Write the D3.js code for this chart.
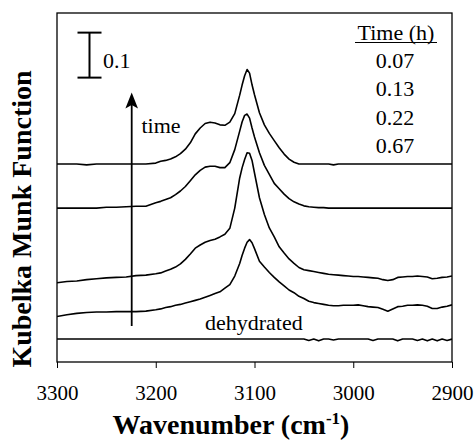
<!DOCTYPE html>
<html>
<head>
<meta charset="utf-8">
<script src="https://cdn.jsdelivr.net/npm/d3@7"></script>
<style>
  body { margin: 0; background: #fff; }
  svg { display: block; }
  text { font-family: "Liberation Serif", "Times New Roman", serif; fill: #000; }
</style>
</head>
<body>
<svg id="chart" width="474" height="443"></svg>
<script>
// Wavenumber grid (cm-1), denser through the C-H stretching peak
const wavenumbers = [
  3300, 3290, 3280, 3270, 3260, 3250, 3240, 3230, 3220, 3210,
  3200, 3195, 3190, 3185, 3180, 3175, 3170, 3165, 3160, 3155, 3150, 3145, 3140, 3135, 3130, 3125, 3120,
  3115, 3112.5, 3110, 3107.5, 3105, 3102.5, 3100,
  3095, 3090, 3085, 3080, 3075, 3070, 3065, 3060, 3055, 3050,
  3045, 3040, 3035, 3030, 3025, 3020, 3015, 3010, 3005, 3000,
  2995, 2990, 2985, 2980, 2975, 2970, 2965, 2960, 2955, 2950,
  2945, 2940, 2935, 2930, 2925, 2920, 2915, 2910, 2905, 2900
];

// Kubelka-Munk spectra
const kmDehydrated = [
  0.001, 0.001, 0.001, 0.001, 0.001, 0.001, 0.001, 0.001, 0.001, 0.001,
  0.001, 0.001, 0.001, 0.001, 0.001, 0.001, 0.001, 0.001, 0.001, 0.001, 0.001, 0.001, 0.001, 0.001, 0.001, 0.001, 0.001,
  0.001, 0.001, 0.001, 0.001, 0.001, 0.001, 0.001,
  0.001, 0.001, 0.001, 0.001, 0.001, 0.001, 0.001, 0.001, 0.001, 0.001,
  -0.002, 0.001, -0.003, 0.001, 0.001, -0.001, 0.001, 0.001, 0.001, 0.001,
  0.001, 0.001, 0.001, -0.002, 0.001, 0.001, 0.001, 0.001, -0.003, 0.001,
  0.001, 0.001, -0.002, 0.001, -0.003, 0.001, -0.003, 0.001, -0.002, 0.001
];
const km007 = [
  0.001, 0.005, 0.008, 0.010, 0.011, 0.011, 0.012, 0.012, 0.012, 0.013,
  0.016, 0.018, 0.021, 0.023, 0.026, 0.028, 0.031, 0.034, 0.037, 0.040, 0.044, 0.048, 0.052, 0.056, 0.064, 0.072, 0.091,
  0.119, 0.137, 0.153, 0.166, 0.172, 0.165, 0.152,
  0.124, 0.111, 0.099, 0.088, 0.078, 0.069, 0.060, 0.054, 0.046, 0.041,
  0.035, 0.032, 0.030, 0.028, 0.026, 0.025, 0.025, 0.026, 0.026, 0.026,
  0.027, 0.025, 0.023, 0.022, 0.021, 0.017, 0.013, 0.018, 0.023, 0.024,
  0.026, 0.026, 0.027, 0.026, 0.024, 0.019, 0.019, 0.022, 0.024, 0.027
];
const km013 = [
  0.006, 0.009, 0.010, 0.013, 0.015, 0.017, 0.018, 0.019, 0.022, 0.023,
  0.026, 0.028, 0.032, 0.036, 0.041, 0.048, 0.058, 0.070, 0.083, 0.090, 0.096, 0.100, 0.103, 0.108, 0.114, 0.127, 0.172,
  0.239, 0.262, 0.280, 0.295, 0.294, 0.278, 0.250,
  0.195, 0.158, 0.128, 0.108, 0.086, 0.072, 0.059, 0.049, 0.040, 0.035,
  0.033, 0.031, 0.029, 0.027, 0.025, 0.024, 0.023, 0.022, 0.021, 0.020,
  0.020, 0.019, 0.018, 0.017, 0.016, 0.013, 0.011, 0.013, 0.018, 0.019,
  0.020, 0.020, 0.021, 0.020, 0.019, 0.015, 0.016, 0.018, 0.019, 0.021
];
const km022 = [
  0.002, 0.002, 0.002, 0.002, 0.002, 0.004, 0.004, 0.005, 0.006, 0.006,
  0.014, 0.017, 0.021, 0.025, 0.032, 0.040, 0.050, 0.063, 0.076, 0.086, 0.093, 0.095, 0.095, 0.092, 0.092, 0.103, 0.132,
  0.173, 0.194, 0.208, 0.211, 0.202, 0.180, 0.160,
  0.125, 0.097, 0.077, 0.057, 0.045, 0.033, 0.023, 0.016, 0.011, 0.007,
  0.005, 0.004, 0.003, 0.003, 0.002, 0.002, 0.002, 0.002, 0.002, 0.002,
  0.002, 0.002, 0.002, 0.002, 0.002, 0.002, 0.002, 0.002, 0.002, 0.002,
  0.002, 0.002, 0.002, 0.002, 0.002, 0.002, 0.002, 0.002, 0.002, 0.002
];
const km067 = [
  0, 0, 0, -0.002, 0, 0, 0, 0, 0, 0,
  0.002, 0.006, 0.008, 0.011, 0.016, 0.023, 0.033, 0.047, 0.067, 0.080, 0.090, 0.093, 0.091, 0.087, 0.086, 0.093, 0.112,
  0.153, 0.176, 0.196, 0.210, 0.202, 0.176, 0.154,
  0.114, 0.087, 0.068, 0.052, 0.036, 0.022, 0.011, 0.004, 0, 0,
  0, 0, 0, 0, 0, -0.002, 0, 0, 0, 0,
  0, 0, 0, 0, 0, 0, 0, 0, 0, 0,
  0, 0, 0, 0, 0, 0, 0, 0, 0, 0
];

// Vertical offsets applied to stack the spectra (bottom to top)
const spectra = [kmDehydrated, km007, km013, km022, km067];
const offsets = [0.05, 0.10, 0.17, 0.34, 0.44];

const timeLabels = ["0.07", "0.13", "0.22", "0.67"];
const xTicks = [3300, 3200, 3100, 3000, 2900];
const scaleBarValue = 0.1;
const scaleBarBase = 0.632;

const svg = d3.select("#chart");
const plot = { left: 57, right: 452, top: 13, bottom: 362 };

const x = d3.scaleLinear().domain([3300, 2900]).range([plot.left, plot.right]);
const y = d3.scaleLinear().domain([0, 0.7756]).range([plot.bottom, plot.top]);

svg.append("defs").append("clipPath").attr("id", "plot-clip")
  .append("rect")
  .attr("x", plot.left).attr("y", plot.top)
  .attr("width", plot.right - plot.left).attr("height", plot.bottom - plot.top);

// Spectra
const gLines = svg.append("g").attr("clip-path", "url(#plot-clip)");
spectra.forEach((vals, i) => {
  const line = d3.line()
    .x((d, j) => x(wavenumbers[j]))
    .y(d => y(d + offsets[i]));
  gLines.append("path")
    .datum(vals)
    .attr("d", line)
    .attr("fill", "none")
    .attr("stroke", "#000")
    .attr("stroke-width", 1.6)
    .attr("stroke-linejoin", "round");
});

// Frame
svg.append("rect")
  .attr("x", plot.left).attr("y", plot.top)
  .attr("width", plot.right - plot.left).attr("height", plot.bottom - plot.top)
  .attr("fill", "none").attr("stroke", "#000").attr("stroke-width", 1.3);

// X axis
const xAxis = svg.append("g")
  .attr("transform", `translate(0,${plot.bottom})`)
  .call(d3.axisBottom(x).tickValues(xTicks).tickSize(6).tickPadding(17).tickFormat(d3.format("d")));
xAxis.select(".domain").remove();
xAxis.selectAll(".tick line").attr("stroke", "#000").attr("stroke-width", 1);
xAxis.selectAll(".tick text")
  .style("font-family", "'Liberation Serif', 'Times New Roman', serif")
  .style("font-size", "21px").attr("fill", "#000");

// Axis titles
const xTitle = svg.append("text")
  .attr("x", 231).attr("y", 434)
  .attr("text-anchor", "middle")
  .style("font-size", "28px").style("font-weight", "bold");
xTitle.append("tspan").text("Wavenumber (cm");
xTitle.append("tspan").attr("dy", -10).style("font-size", "17px").text("-1");
xTitle.append("tspan").attr("dy", 10).text(")");

svg.append("text")
  .attr("transform", "translate(31,219) rotate(-90)")
  .attr("text-anchor", "middle")
  .style("font-size", "28px").style("font-weight", "bold")
  .text("Kubelka Munk Function");

// Scale bar
const sbX = 89.5, sbTop = y(scaleBarBase + scaleBarValue), sbBot = y(scaleBarBase);
svg.append("line").attr("x1", sbX).attr("x2", sbX).attr("y1", sbTop).attr("y2", sbBot)
  .attr("stroke", "#000").attr("stroke-width", 2);
[sbTop, sbBot].forEach(v => svg.append("line")
  .attr("x1", sbX - 12).attr("x2", sbX + 12).attr("y1", v).attr("y2", v)
  .attr("stroke", "#000").attr("stroke-width", 2));
svg.append("text").attr("x", 103).attr("y", 68)
  .style("font-size", "22px").text(String(scaleBarValue));

// Time arrow
const arX = 131.7;
svg.append("line").attr("x1", arX).attr("x2", arX).attr("y1", 326).attr("y2", 104)
  .attr("stroke", "#000").attr("stroke-width", 1.8);
svg.append("path")
  .attr("d", `M${arX},92.5 L${arX + 6.3},108.5 L${arX},105 L${arX - 6.3},108.5 Z`)
  .attr("fill", "#000");
svg.append("text").attr("x", 141.5).attr("y", 133)
  .style("font-size", "22px").text("time");

svg.append("text").attr("x", 205).attr("y", 330)
  .style("font-size", "22px").text("dehydrated");

// Legend of exposure times
svg.append("text").attr("x", 396).attr("y", 40).attr("text-anchor", "middle")
  .style("font-size", "22px").text("Time (h)");
svg.append("line").attr("x1", 355).attr("x2", 437).attr("y1", 42.5).attr("y2", 42.5)
  .attr("stroke", "#000").attr("stroke-width", 1.2);
svg.selectAll(".time-label").data(timeLabels).enter().append("text")
  .attr("class", "time-label")
  .attr("x", 395).attr("y", (d, i) => 68 + i * 28.4)
  .attr("text-anchor", "middle")
  .style("font-size", "22px")
  .text(d => d);
</script>
</body>
</html>
